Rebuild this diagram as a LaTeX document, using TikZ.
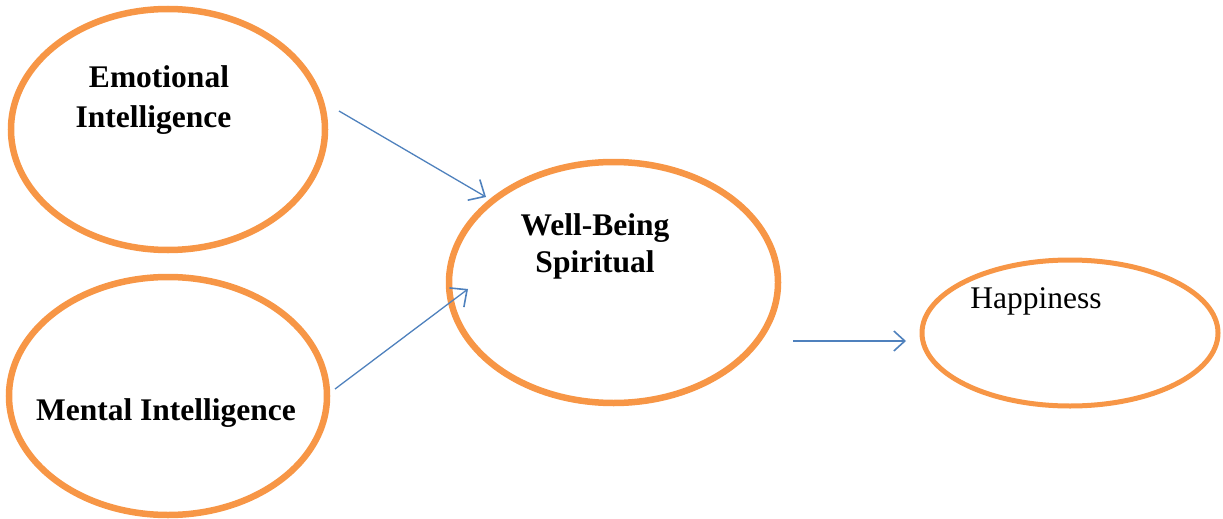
\documentclass[tikz,border=0pt]{standalone}
\usepackage{fontspec}
\setmainfont{Liberation Serif}
\usetikzlibrary{shapes.geometric,arrows.meta}
\definecolor{ringorange}{HTML}{F79646}
\definecolor{arrowblue}{HTML}{4F81BD}
\tikzset{
  ring/.style={ellipse, draw=ringorange, line width=6.5pt, inner sep=0pt, outer sep=0pt},
  lbl/.style={anchor=base, inner sep=0pt, font=\fontsize{31.5}{38}\selectfont\bfseries},
  lblplain/.style={anchor=base, inner sep=0pt, font=\fontsize{31.5}{38}\selectfont},
  conn/.style={draw=arrowblue, line width=1.3pt, -{Straight Barb[length=13pt,width=24pt,line width=1.6pt]}},
  connshort/.style={draw=arrowblue, line width=1.3pt, -{Straight Barb[length=11pt,width=20pt,line width=1.6pt]}}
}
\begin{document}
\begin{tikzpicture}[x=1pt,y=-1pt]
\useasboundingbox (0,0) rectangle (1223,519);
% ellipses
\node[ring, minimum width=314pt, minimum height=241pt] (emo) at (168,129.5) {};
\node[ring, minimum width=318pt, minimum height=238pt] (men) at (168,396) {};
\node[ring, minimum width=329pt, minimum height=241pt] (wel) at (613.5,282.5) {};
\node[ring, line width=5pt, minimum width=296pt, minimum height=146pt] (hap) at (1070,333) {};
% labels
\node[lbl] (emoA) at (159,88) {Emotional};
\node[lbl] (emoB) at (153.5,127) {Intelligence};
\node[lbl] (menA) at (166,420) {Mental Intelligence};
\node[lbl] (welA) at (595,235) {Well-Being};
\node[lbl] (welB) at (595,272) {Spiritual};
\node[lblplain] (hapA) at (1036,308) {Happiness};
% connector ends
\coordinate (a1s) at (339,111);
\coordinate (a1e) at (486,197);
\coordinate (a2s) at (335,389);
\coordinate (a2e) at (468,289);
\coordinate (a3s) at (793,341);
\coordinate (a3e) at (906,341);
\draw[conn] (a1s) -- (a1e);
\draw[conn] (a2s) -- (a2e);
\draw[connshort] (a3s) -- (a3e);
\end{tikzpicture}
\end{document}
